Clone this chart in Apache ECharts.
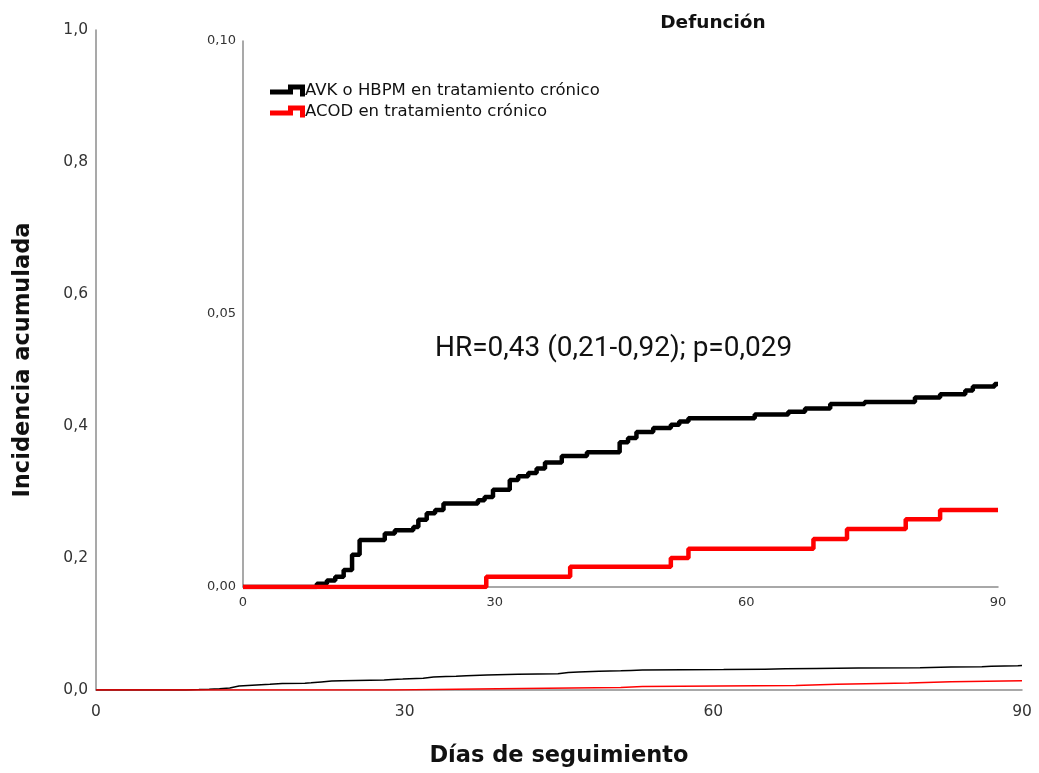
<!DOCTYPE html>
<html>
<head>
<meta charset="utf-8">
<script src="https://cdn.jsdelivr.net/npm/echarts@6/dist/echarts.min.js"></script>
<style>html,body{margin:0;padding:0;background:#fff}#c{width:1039px;height:773px}</style>
</head>
<body>
<div id="c"></div>
<script>
var seriesNames = ['AVK o HBPM en tratamiento crónico', 'ACOD en tratamiento crónico'];
var mainXTicks = ['0', '30', '60', '90'];
var mainYTicks = ['0,0', '0,2', '0,4', '0,6', '0,8', '1,0'];
var insetYTicks = ['0,00', '0,05', '0,10'];
// [day, cumulative incidence]
var avkData = [[0,0],[8.8,0.0006],[10.0,0.0012],[11.0,0.0019],[12.0,0.0031],[13.0,0.0059],[13.9,0.0086],[16.9,0.0098],[18.1,0.0104],[20.3,0.0110],[20.9,0.0123],[21.9,0.0135],[22.9,0.0141],[23.9,0.0153],[28.0,0.0159],[28.8,0.0165],[29.8,0.0178],[31.8,0.0196],[32.8,0.0203],[34.0,0.0209],[35.0,0.0217],[36.0,0.0228],[38.0,0.0240],[41.0,0.0247],[44.9,0.0265],[45.9,0.0273],[46.9,0.0284],[48.9,0.0291],[51.0,0.0297],[52.0,0.0303],[53.1,0.0309],[61.0,0.0316],[65.0,0.0321],[67.0,0.0327],[70.0,0.0335],[74.1,0.0339],[80.1,0.0347],[83.1,0.0353],[86.1,0.0360],[87.0,0.0367],[89.6,0.0372],[90,0.0372]];
var acodData = [[0,0],[29.0,0.0019],[39.0,0.0037],[51.0,0.0053],[53.1,0.0070],[68.0,0.0088],[72.0,0.0106],[79.0,0.0124],[83.1,0.0141],[90,0.0141]];
var hrText = 'HR=0,43 (0,21-0,92); p=0,029';
var titleText = 'Defunción';

var axisCol = '#8c8c8c';
var font = 'DejaVu Sans';
var stepIcon = 'path://M0,5 L18,5 L18,0 L35,0 L35,12 L30,12 L30,5 L23,5 L23,10 L0,10 Z';

function fmt(list, step) {
  return function (v) { var i = Math.round(v / step); return list[i] !== undefined ? list[i] : ''; };
}

var chart = echarts.init(document.getElementById('c'));
chart.setOption({
  animation: false,
  backgroundColor: '#fff',
  title: {
    text: titleText, left: 708, top: 9, textAlign: 'center',
    textStyle: { fontFamily: font, fontWeight: 'bold', fontSize: 18.5, color: '#111' }
  },
  legend: {
    orient: 'vertical', left: 265, top: 77, itemGap: 4, itemWidth: 35, itemHeight: 12,
    icon: stepIcon, data: seriesNames,
    textStyle: { fontFamily: font, fontSize: 16.5, color: '#111', padding: [0,0,0,-5] }
  },
  grid: [
    { left: 96, right: 17, top: 30, bottom: 81 },
    { left: 243, right: 41, top: 41, bottom: 186 }
  ],
  xAxis: [
    { type: 'value', gridIndex: 0, min: 0, max: 90, interval: 30,
      name: 'Días de seguimiento', nameLocation: 'middle', nameGap: 55,
      nameTextStyle: { fontFamily: font, fontWeight: 'bold', fontSize: 22.5, color: '#111' },
      axisLine: { lineStyle: { color: axisCol, width: 1.5 } }, axisTick: { show: false }, splitLine: { show: false },
      axisLabel: { fontFamily: font, fontSize: 15.5, color: '#333', margin: 14, formatter: fmt(mainXTicks, 30) } },
    { type: 'value', gridIndex: 1, min: 0, max: 90, interval: 30,
      axisLine: { lineStyle: { color: axisCol, width: 1.5 } }, axisTick: { show: false }, splitLine: { show: false },
      axisLabel: { fontFamily: font, fontSize: 13, color: '#333', margin: 9, formatter: fmt(mainXTicks, 30) } }
  ],
  yAxis: [
    { type: 'value', gridIndex: 0, min: 0, max: 1, interval: 0.2,
      name: 'Incidencia acumulada', nameLocation: 'middle', nameGap: 61,
      nameTextStyle: { fontFamily: font, fontWeight: 'bold', fontSize: 22.5, color: '#111' },
      axisLine: { show: true, lineStyle: { color: axisCol, width: 1.5 } }, axisTick: { show: false }, splitLine: { show: false },
      axisLabel: { fontFamily: font, fontSize: 15.5, color: '#333', margin: 8, formatter: fmt(mainYTicks, 0.2) } },
    { type: 'value', gridIndex: 1, min: 0, max: 0.1, interval: 0.05,
      axisLine: { show: true, lineStyle: { color: axisCol, width: 1.5 } }, axisTick: { show: false }, splitLine: { show: false },
      axisLabel: { fontFamily: font, fontSize: 13, color: '#333', margin: 7, formatter: fmt(insetYTicks, 0.05) } }
  ],
  series: [
    { name: seriesNames[0], type: 'line', step: 'end', xAxisIndex: 0, yAxisIndex: 0, data: avkData,
      showSymbol: false, color: '#000', lineStyle: { color: '#000', width: 1.5 }, z: 2 },
    { name: seriesNames[1], type: 'line', step: 'end', xAxisIndex: 0, yAxisIndex: 0, data: acodData,
      showSymbol: false, color: '#ff0000', lineStyle: { color: '#ff0000', width: 1.5 }, z: 3 },
    { name: seriesNames[0], type: 'line', step: 'end', xAxisIndex: 1, yAxisIndex: 1, data: avkData,
      showSymbol: false, color: '#000', lineStyle: { color: '#000', width: 4.5 }, z: 2 },
    { name: seriesNames[1], type: 'line', step: 'end', xAxisIndex: 1, yAxisIndex: 1, data: acodData,
      showSymbol: false, color: '#ff0000', lineStyle: { color: '#ff0000', width: 4.5 }, z: 3 }
  ],
  graphic: [
    { type: 'text', left: 435, top: 335, style: { text: hrText, font: '28px Roboto', fill: '#111' } }
  ]
});
</script>
</body>
</html>
